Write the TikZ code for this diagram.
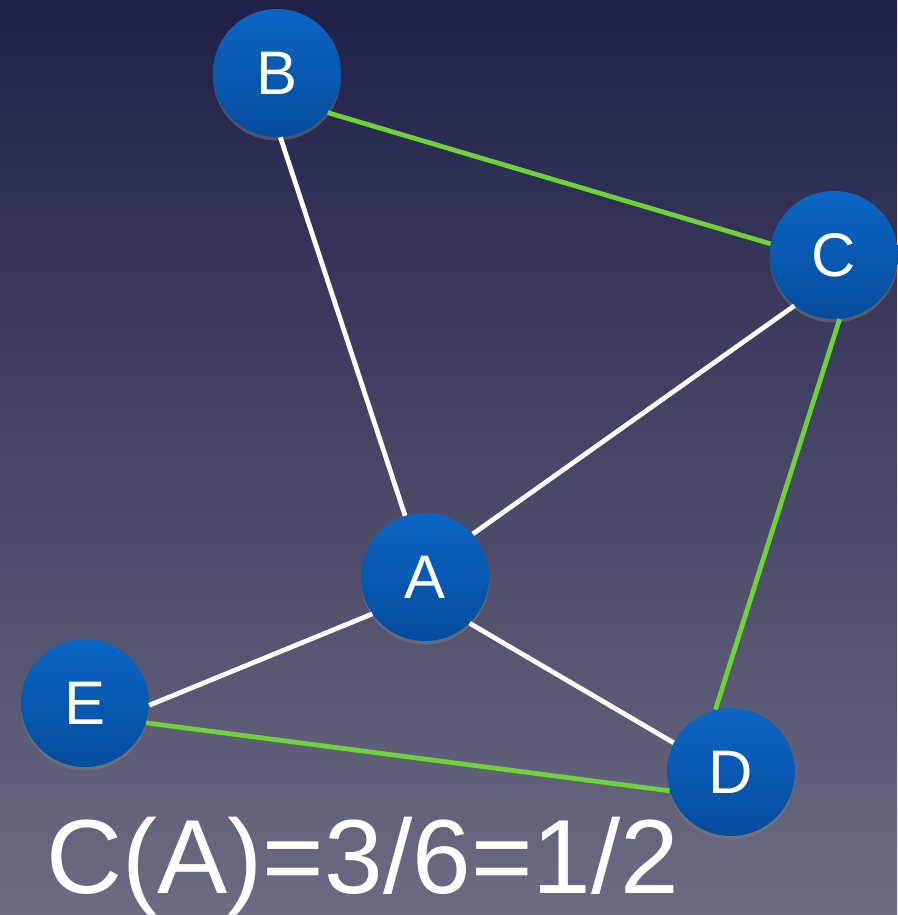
\documentclass[tikz,border=0pt]{standalone}
\usepackage{fontspec}
\setmainfont{Liberation Sans}
\usetikzlibrary{shadows}
\definecolor{bgtop}{HTML}{20214A}
\definecolor{bgbot}{HTML}{6C6B82}
\definecolor{ntop}{HTML}{0B66C4}
\definecolor{nbot}{HTML}{054C9E}
\definecolor{cgreen}{HTML}{6ED23A}
\tikzset{
  every picture/.style={x=0.02cm, y=-0.02cm},
  vertex/.style={circle, minimum size=2.56cm, inner sep=0pt, top color=ntop, bottom color=nbot,
    text=white, font=\fontsize{35}{35}\selectfont,
    drop shadow={opacity=0.45, shadow xshift=0pt, shadow yshift=-2pt}},
  edge/.style={draw=white, line width=2.7pt},
  tri/.style={draw=cgreen, line width=2.7pt},
  formula/.style={text=white, font=\fontsize{60}{60}\selectfont, inner sep=0pt, anchor=base west},
}
\begin{document}
\begin{tikzpicture}
  \shade[top color=bgtop, bottom color=bgbot] (0,0) rectangle (897,915);
  \useasboundingbox (0,0) rectangle (897,915);
  % vertices
  \node[vertex] (B) at (277,73) {B};
  \node[vertex] (C) at (834,255) {C};
  \node[vertex] (A) at (425,577) {A};
  \node[vertex] (E) at (85,703) {E};
  \node[vertex] (D) at (731,772) {D};
  % edges of A
  \draw[edge] (B.-87) -- (A.108);
  \draw[edge] (A.42) -- (C.-128);
  \draw[edge] (A.-145) -- (E.-2);
  \draw[edge] (A.-46) -- (D.153);
  % links among neighbours
  \draw[tri] (B.-38) -- (C.170);
  \draw[tri] (C.-85) -- (D.104);
  \draw[tri] (E.-18) -- (D.-163);
  \node[formula] (cc) at (46,893) {C(A)=3/6=1/2};
\end{tikzpicture}
\end{document}
